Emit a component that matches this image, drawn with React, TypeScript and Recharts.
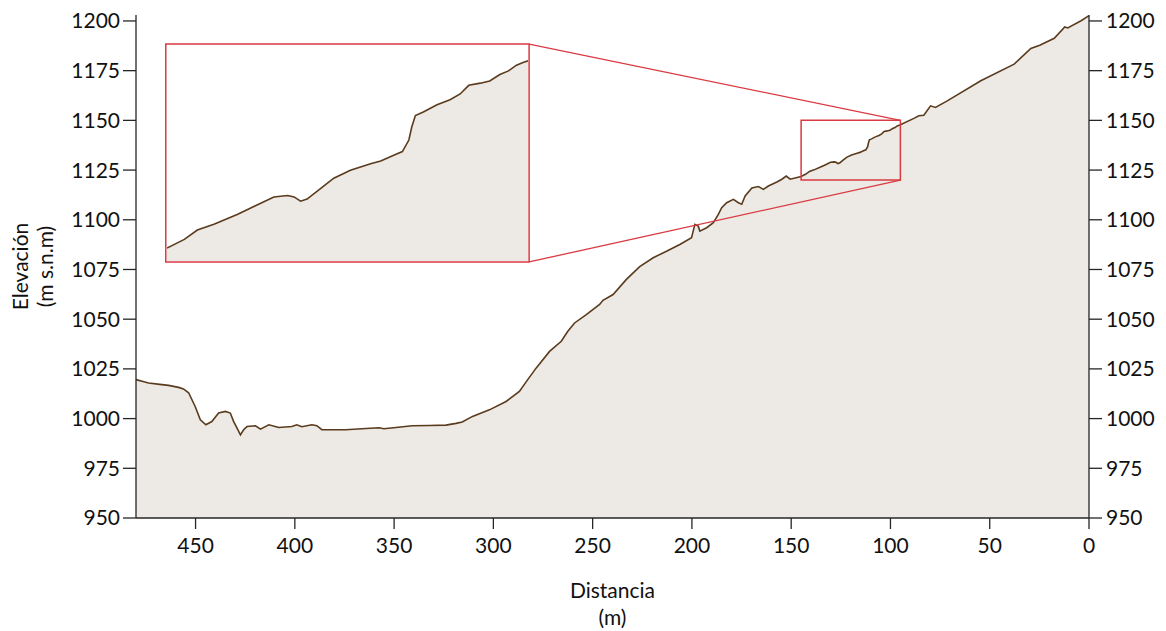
import { AreaChart, Area, XAxis, YAxis, ReferenceArea, ReferenceLine, Label } from 'recharts';

// Perfil de elevación (distancia en m, elevación en m s.n.m)
const DISTANCE = [
  480, 476, 473.7, 468, 463.6, 458.6, 456.1, 453.5, 450.2, 447.6, 444.8, 441.8, 438.4, 435, 432.5, 430.8,
  429.1, 427.4, 425.8, 424.1, 419.8, 417.3, 413.1, 408.1, 401.5, 399, 396.5, 391.4, 388.9, 386.4, 374.4,
  366.2, 357.6, 355.1, 349.1, 340.9, 332.3, 323.9, 318.8, 315.7, 310.5, 302, 293.6, 286.9, 282.7, 278.4,
  271.7, 265.8, 262.5, 259.1, 253.2, 246.5, 244.8, 239.7, 233, 226.3, 219.5, 212.8, 206.1, 200.2, 198.5,
  196.8, 196, 192.6, 189.2, 186.7, 185, 182.5, 179.1, 176.6, 174.9, 173.2, 169.8, 166.5, 164, 161.5, 157.2,
  154.7, 152.5, 150.5, 145, 142.6, 140.8, 138.5, 135.2, 132.9, 130.2, 128.3, 127.4, 126.5, 125.6, 123.7,
  121.9, 119.6, 116.8, 115.4, 113.6, 112.4, 111.5, 111.1, 110.6, 109.5, 107.6, 105.8, 104.4, 103.2, 101.6,
  100.3, 98.9, 97.7, 96.6, 95.6, 95, 88.2, 85.7, 83.2, 79.8, 77.3, 71.4, 54.5, 37.7, 29.3, 24.8, 17.5, 12.2,
  10.7, 4, 0,
];
const ELEVATION = [
  1019.6, 1018.5, 1017.9, 1017.2, 1016.7, 1015.7, 1014.9, 1013, 1006.1, 999.4, 996.9, 998.5, 1002.8, 1003.6,
  1002.8, 998.5, 995.2, 991.8, 994.4, 996, 996.4, 994.7, 996.9, 995.5, 996, 996.9, 995.9, 996.9, 996.4, 994.4,
  994.4, 994.9, 995.4, 994.9, 995.5, 996.4, 996.5, 996.7, 997.6, 998.3, 1001.1, 1004.4, 1008.6, 1013.7,
  1019.6, 1025.5, 1033.8, 1038.9, 1043.9, 1048.1, 1052.3, 1057.4, 1059.5, 1062.4, 1070, 1076.4, 1080.9,
  1084.2, 1087.6, 1091, 1097.7, 1096.8, 1094.3, 1096, 1098.5, 1102.7, 1106.1, 1108.6, 1110.3, 1108.6,
  1107.8, 1112, 1116, 1116.7, 1115.3, 1117, 1119, 1120.4, 1122, 1120.4, 1121.8, 1123, 1124.3, 1125.1,
  1126.5, 1127.6, 1128.9, 1129.1, 1128.9, 1128.3, 1128.6, 1130.1, 1131.5, 1132.6, 1133.5, 1133.9, 1134.7,
  1135.2, 1136.8, 1138.6, 1140.2, 1140.7, 1141.7, 1142.4, 1143.2, 1144.4, 1144.7, 1145, 1145.9, 1146.4,
  1147.2, 1147.6, 1147.8, 1151, 1152.3, 1152.6, 1157.3, 1156.5, 1159.8, 1169.9, 1178.3, 1186.2, 1187.8,
  1191.3, 1197, 1196.5, 1200.1, 1202.7,
];

const X_TICKS = [450, 400, 350, 300, 250, 200, 150, 100, 50, 0];
const Y_TICKS = [950, 975, 1000, 1025, 1050, 1075, 1100, 1125, 1150, 1175, 1200];

// zona ampliada
const ZOOM_X = [95, 145];
const ZOOM_Y = [1120, 1150];
// marco del recuadro ampliado, en unidades del gráfico principal
const INSET_X = [282, 465];
const INSET_Y = [1078.8, 1188.4];

const profile = DISTANCE.map((d, i) => ({ d, z: ELEVATION[i] }));
const insetProfile = profile.filter((p) => p.d >= ZOOM_X[0] && p.d <= ZOOM_X[1]);

const FILL = '#EDE9E4';
const LINE = '#5A3B1D';
const RED = '#DA3A41';
const AXIS = '#262626';
const FONT = 'Lato, "Open Sans", sans-serif';

const tickStyle = { fontFamily: FONT, fontSize: 21, fill: '#111' };

function YTitle(props: any) {
  const vb = props.viewBox || { y: 15, height: 503 };
  const cy = vb.y + vb.height / 2;
  return (
    <g fontFamily={FONT} fontSize={21} fill="#111">
      <text x={19} y={cy} transform={`rotate(-90, 19, ${cy})`} textAnchor="middle" dominantBaseline="central">
        Elevación
      </text>
      <text x={44} y={cy} transform={`rotate(-90, 44, ${cy})`} textAnchor="middle" dominantBaseline="central">
        (m s.n.m)
      </text>
    </g>
  );
}

function XTitle(props: any) {
  const vb = props.viewBox || { x: 136, width: 953 };
  const cx = vb.x + vb.width / 2;
  return (
    <g fontFamily={FONT} fontSize={21} fill="#111">
      <text x={cx} y={589} textAnchor="middle" dominantBaseline="central">Distancia</text>
      <text x={cx} y={616} textAnchor="middle" dominantBaseline="central">(m)</text>
    </g>
  );
}

export default function App() {
  return (
    <div style={{ position: 'absolute', left: 0, top: 0, width: 1166, height: 631, background: '#fff' }}>
      <AreaChart width={1166} height={631} data={profile} margin={{ top: 15, right: 7, bottom: 68, left: 66 }}>
        <XAxis
          dataKey="d"
          type="number"
          domain={[0, 480]}
          reversed
          ticks={X_TICKS}
          tick={tickStyle}
          tickSize={11}
          tickMargin={9}
          height={45}
          stroke={AXIS}
          strokeWidth={1.3}
        >
          <Label content={XTitle} />
        </XAxis>
        <YAxis
          yAxisId="left"
          orientation="left"
          type="number"
          domain={[950, 1203]}
          ticks={Y_TICKS}
          tick={tickStyle}
          tickSize={13}
          tickMargin={3}
          width={70}
          stroke={AXIS}
          strokeWidth={1.3}
        >
          <Label content={YTitle} />
        </YAxis>
        <YAxis
          yAxisId="right"
          orientation="right"
          type="number"
          domain={[950, 1203]}
          ticks={Y_TICKS}
          tick={tickStyle}
          tickSize={13}
          tickMargin={4}
          width={70}
          stroke={AXIS}
          strokeWidth={1.3}
        />
        <Area
          yAxisId="left"
          dataKey="z"
          type="linear"
          stroke={LINE}
          strokeWidth={1.6}
          fill={FILL}
          fillOpacity={1}
          isAnimationActive={false}
        />
        {/* same profile bound to the right axis so that axis is drawn */}
        <Area
          yAxisId="right"
          dataKey="z"
          type="linear"
          stroke="none"
          fill="none"
          isAnimationActive={false}
        />
        <ReferenceArea
          yAxisId="left"
          x1={INSET_X[1]}
          x2={INSET_X[0]}
          y1={INSET_Y[0]}
          y2={INSET_Y[1]}
          fill="#fff"
          fillOpacity={1}
          stroke={RED}
          strokeWidth={1.5}
        />
        <ReferenceArea
          yAxisId="left"
          x1={ZOOM_X[1]}
          x2={ZOOM_X[0]}
          y1={ZOOM_Y[0]}
          y2={ZOOM_Y[1]}
          fill="none"
          fillOpacity={0}
          stroke={RED}
          strokeWidth={1.5}
        />
        <ReferenceLine
          yAxisId="left"
          segment={[{ x: INSET_X[0], y: INSET_Y[1] }, { x: ZOOM_X[0], y: ZOOM_Y[1] }]}
          stroke={RED}
          strokeWidth={1.3}
        />
        <ReferenceLine
          yAxisId="left"
          segment={[{ x: INSET_X[0], y: INSET_Y[0] }, { x: ZOOM_X[0], y: ZOOM_Y[0] }]}
          stroke={RED}
          strokeWidth={1.3}
        />
      </AreaChart>
      <div style={{ position: 'absolute', left: 167, top: 45, width: 361, height: 216 }}>
        <AreaChart width={361} height={216} data={insetProfile} margin={{ top: 0, right: 0, bottom: 0, left: 0 }}>
          <XAxis dataKey="d" type="number" domain={ZOOM_X} reversed allowDataOverflow hide />
          <YAxis type="number" domain={ZOOM_Y} allowDataOverflow hide />
          <Area
            dataKey="z"
            type="linear"
            stroke={LINE}
            strokeWidth={1.6}
            fill={FILL}
            fillOpacity={1}
            isAnimationActive={false}
          />
        </AreaChart>
      </div>
    </div>
  );
}
